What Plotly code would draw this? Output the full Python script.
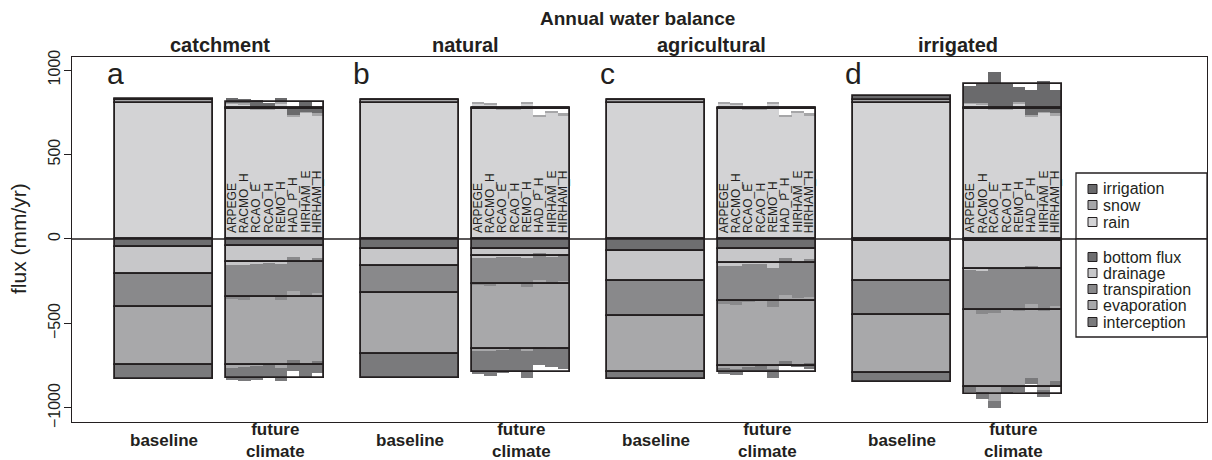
import numpy as np
import plotly.graph_objects as go

# ---------------------------------------------------------------- data (mm/yr)
regions = ["catchment", "natural", "agricultural", "irrigated"]
panel_letters = ["a", "b", "c", "d"]
models = ["ARPEGE", "RACMO_H", "RCAO_E", "RCAO_H", "REMO_H", "HAD_P_H", "HIRHAM_E", "HIRHAM_H"]
period_labels = ["baseline", "future<br>climate"]

inflow_names = ["irrigation", "snow", "rain"]
outflow_names = ["bottom flux", "drainage", "transpiration", "evaporation", "interception"]

# baseline, one value per region
base_rain = [805, 805, 805, 805]
base_snow = [18, 18, 18, 18]
base_irrigation = [3, 0, 0, 23]
base_bottom_flux = [45, 60, 69, 12]
base_drainage = [164, 100, 179, 236]
base_transpiration = [195, 160, 206, 202]
base_evaporation = [341, 360, 331, 343]
base_interception = [83, 145, 43, 53]

# future climate, one value per regional climate model
fut_rain = [800, 797, 765, 768, 804, 727, 748, 730]
fut_snow = [6, 6, 7, 7, 6, 6, 6, 15]

fut_irrigation_catchment = [26, 25, 50, 31, 22, 44, 56, 30]
fut_irrigation_natural = [0, 0, 0, 0, 0, 0, 0, 0]
fut_irrigation_agricultural = [0, 0, 0, 0, 0, 0, 0, 0]
fut_irrigation_irrigated = [99, 119, 218, 140, 90, 147, 181, 135]

fut_bottom_flux_catchment = [41, 41, 41, 41, 41, 41, 41, 41]
fut_drainage_catchment = [113, 111, 104, 102, 109, 67, 93, 74]
fut_transpiration_catchment = [201, 207, 200, 197, 212, 200, 203, 203]
fut_evaporation_catchment = [408, 401, 407, 407, 401, 408, 410, 402]
fut_interception_catchment = [71, 83, 80, 71, 80, 65, 68, 73]

fut_bottom_flux_natural = [61, 61, 61, 61, 61, 61, 61, 61]
fut_drainage_natural = [51, 49, 47, 45, 51, 20, 43, 26]
fut_transpiration_natural = [163, 168, 160, 156, 170, 162, 158, 163]
fut_evaporation_natural = [387, 387, 387, 388, 378, 397, 383, 392]
fut_interception_natural = [138, 145, 140, 134, 163, 105, 110, 126]

fut_bottom_flux_agricultural = [61, 61, 61, 61, 61, 61, 61, 61]
fut_drainage_agricultural = [99, 97, 89, 87, 111, 51, 77, 59]
fut_transpiration_agricultural = [225, 232, 222, 220, 230, 219, 212, 223]
fut_evaporation_agricultural = [380, 378, 383, 384, 366, 391, 395, 388]
fut_interception_agricultural = [35, 37, 35, 34, 55, 23, 15, 37]

fut_bottom_flux_irrigated = [10, 10, 10, 10, 10, 10, 10, 10]
fut_drainage_irrigated = [173, 179, 170, 165, 170, 150, 165, 155]
fut_transpiration_irrigated = [235, 255, 260, 240, 245, 225, 250, 230]
fut_evaporation_irrigated = [450, 460, 520, 455, 445, 435, 470, 445]
fut_interception_irrigated = [40, 42, 40, 40, 38, 36, 40, 38]

# ---------------------------------------------------------------- styling
colors = {
    "irrigation": "#6a6a6c",
    "snow": "#a6a6a8",
    "rain": "#d3d3d5",
    "bottom flux": "#6e6e70",
    "drainage": "#c7c7c9",
    "transpiration": "#89898b",
    "evaporation": "#a8a8aa",
    "interception": "#7a7a7c",
}
INK = "#231f20"
FONT = "Liberation Sans, Arial, Helvetica, sans-serif"

BAR_W = 0.398          # width of a baseline / future block (group units)
OFFSET = 0.2256        # distance of each block from the group centre
n_models = len(models)
sub_w = BAR_W / n_models

groups = np.arange(len(regions))
base_x = groups - OFFSET
fut_x = groups + OFFSET

# stacking order away from zero
pos_order = ["rain", "snow", "irrigation"]
neg_order = outflow_names

baseline = {
    "irrigation": base_irrigation, "snow": base_snow, "rain": base_rain,
    "bottom flux": base_bottom_flux, "drainage": base_drainage,
    "transpiration": base_transpiration, "evaporation": base_evaporation,
    "interception": base_interception,
}

future = {}
for reg in regions:
    g = globals()
    future[reg] = {
        "rain": fut_rain, "snow": fut_snow,
        "irrigation": g["fut_irrigation_" + reg],
        "bottom flux": g["fut_bottom_flux_" + reg],
        "drainage": g["fut_drainage_" + reg],
        "transpiration": g["fut_transpiration_" + reg],
        "evaporation": g["fut_evaporation_" + reg],
        "interception": g["fut_interception_" + reg],
    }


def stack(table, order, sign):
    """Return {component: (signed heights, bases)} stacking away from zero."""
    out = {}
    acc = np.zeros(len(np.atleast_1d(table[order[0]])), dtype=float)
    for comp in order:
        v = np.asarray(table[comp], dtype=float)
        out[comp] = (sign * v, acc.copy())
        acc = acc + sign * v
    return out


fig = go.Figure()

# baseline blocks
bstack = {**stack(baseline, pos_order, 1), **stack(baseline, neg_order, -1)}
for comp in pos_order + neg_order:
    h, b = bstack[comp]
    fig.add_trace(go.Bar(
        x=base_x, y=h, base=b, width=BAR_W, name=comp, showlegend=False,
        marker=dict(color=colors[comp], line=dict(color=INK, width=1.8)),
        hoverinfo="skip"))

# individual climate-model columns of the future blocks
for comp in pos_order + neg_order:
    xs, hs, bs = [], [], []
    for r, reg in enumerate(regions):
        st = {**stack(future[reg], pos_order, 1), **stack(future[reg], neg_order, -1)}
        h, b = st[comp]
        for i in range(n_models):
            xs.append(fut_x[r] - BAR_W / 2 + (i + 0.5) * sub_w)
            hs.append(h[i])
            bs.append(b[i])
    fig.add_trace(go.Bar(
        x=xs, y=hs, base=bs, width=sub_w * 1.02, showlegend=False,
        marker=dict(color=colors[comp], line=dict(width=0)),
        hoverinfo="skip"))

# ensemble-mean outline of the future blocks
mean_tab = {comp: [float(np.mean(future[reg][comp])) for reg in regions]
            for comp in pos_order + neg_order}
mstack = {**stack(mean_tab, pos_order, 1), **stack(mean_tab, neg_order, -1)}
for comp in pos_order + neg_order:
    h, b = mstack[comp]
    fig.add_trace(go.Bar(
        x=fut_x, y=h, base=b, width=BAR_W, showlegend=False,
        marker=dict(color="rgba(0,0,0,0)", line=dict(color=INK, width=1.8)),
        hoverinfo="skip"))

# ---------------------------------------------------------------- layout
X0, X1 = -0.5996, 4.014
Y0, Y1 = -1083, 1077
L, R, T, B = 72, 5, 57, 38
W_PX, H_PX = 1212, 460
plot_w = W_PX - L - R
plot_h = H_PX - T - B


def px_x(p):
    return (p - L) / plot_w


def px_y(p):
    return (H_PX - B - p) / plot_h


annotations = []
# main title
annotations.append(dict(text="<b>Annual water balance</b>", x=px_x(637), y=px_y(19),
                        xref="paper", yref="paper", showarrow=False,
                        xanchor="center", yanchor="middle",
                        font=dict(size=19, color=INK, family=FONT)))
for r, reg in enumerate(regions):
    annotations.append(dict(text="<b>%s</b>" % reg, x=groups[r], y=px_y(45),
                            xref="x", yref="paper", showarrow=False,
                            xanchor="center", yanchor="middle",
                            font=dict(size=20, color=INK, family=FONT)))
    annotations.append(dict(text=panel_letters[r], x=base_x[r] - BAR_W / 2, y=px_y(73),
                            xref="x", yref="paper", showarrow=False,
                            xanchor="center", yanchor="middle",
                            font=dict(size=30, color=INK, family=FONT)))
    annotations.append(dict(text="<b>%s</b>" % period_labels[0], x=base_x[r], y=px_y(441),
                            xref="x", yref="paper", showarrow=False,
                            xanchor="center", yanchor="middle",
                            font=dict(size=17, color=INK, family=FONT)))
    annotations.append(dict(text="<b>%s</b>" % period_labels[1], x=fut_x[r], y=px_y(441),
                            xref="x", yref="paper", showarrow=False,
                            xanchor="center", yanchor="middle",
                            font=dict(size=17, color=INK, family=FONT)))
    for i, m in enumerate(models):
        annotations.append(dict(text=m, x=fut_x[r] - BAR_W / 2 + (i + 0.5) * sub_w, y=24,
                                xref="x", yref="y", showarrow=False, textangle=-90,
                                xanchor="center", yanchor="bottom",
                                font=dict(size=12, color=INK, family=FONT)))

# y-axis title
annotations.append(dict(text="flux (mm/yr)", x=px_x(19), y=px_y(239), xref="paper",
                        yref="paper", showarrow=False, textangle=-90,
                        xanchor="center", yanchor="middle",
                        font=dict(size=21, color=INK, family=FONT)))

shapes = [dict(type="line", xref="paper", yref="y", x0=0, x1=1, y0=0, y1=0,
               line=dict(color=INK, width=1.4), layer="above")]

# legend panels
leg_left, leg_right = 1076, 1207
leg_boxes = [(173, 239, inflow_names, [189, 205, 222]),
             (239, 337, outflow_names, [257, 273, 289, 305, 322])]
for top, bot, names, ys in leg_boxes:
    shapes.append(dict(type="rect", xref="paper", yref="paper",
                       x0=px_x(leg_left), x1=px_x(leg_right), y0=px_y(bot), y1=px_y(top),
                       fillcolor="white", line=dict(color=INK, width=1.3), layer="above"))
    for name, yc in zip(names, ys):
        shapes.append(dict(type="rect", xref="paper", yref="paper",
                           x0=px_x(1088), x1=px_x(1097), y0=px_y(yc + 4.5), y1=px_y(yc - 4.5),
                           fillcolor=colors[name], line=dict(color=INK, width=1), layer="above"))
        annotations.append(dict(text=name, x=px_x(1101), y=px_y(yc), xref="paper",
                                yref="paper", xanchor="left", yanchor="middle",
                                showarrow=False,
                                font=dict(size=16, color=INK, family=FONT)))

fig.update_layout(
    width=W_PX, height=H_PX,
    margin=dict(l=L, r=R, t=T, b=B, pad=0),
    paper_bgcolor="white", plot_bgcolor="white",
    barmode="overlay", bargap=0,
    font=dict(family=FONT, color=INK),
    xaxis=dict(range=[X0, X1], showgrid=False, zeroline=False, showticklabels=False,
               ticks="", showline=True, mirror=True, linecolor=INK, linewidth=1.3),
    yaxis=dict(range=[Y0, Y1], showgrid=False, zeroline=False,
               tickvals=[-1000, -500, 0, 500, 1000], ticks="outside", ticklen=7,
               tickwidth=1.3, tickcolor=INK, tickangle=-90, ticklabelstandoff=-3,
               tickfont=dict(size=16, color=INK, family=FONT),
               showline=True, mirror=True, linecolor=INK, linewidth=1.3),
    annotations=annotations,
    shapes=shapes,
    showlegend=False,
)

fig.write_html("out.html")
